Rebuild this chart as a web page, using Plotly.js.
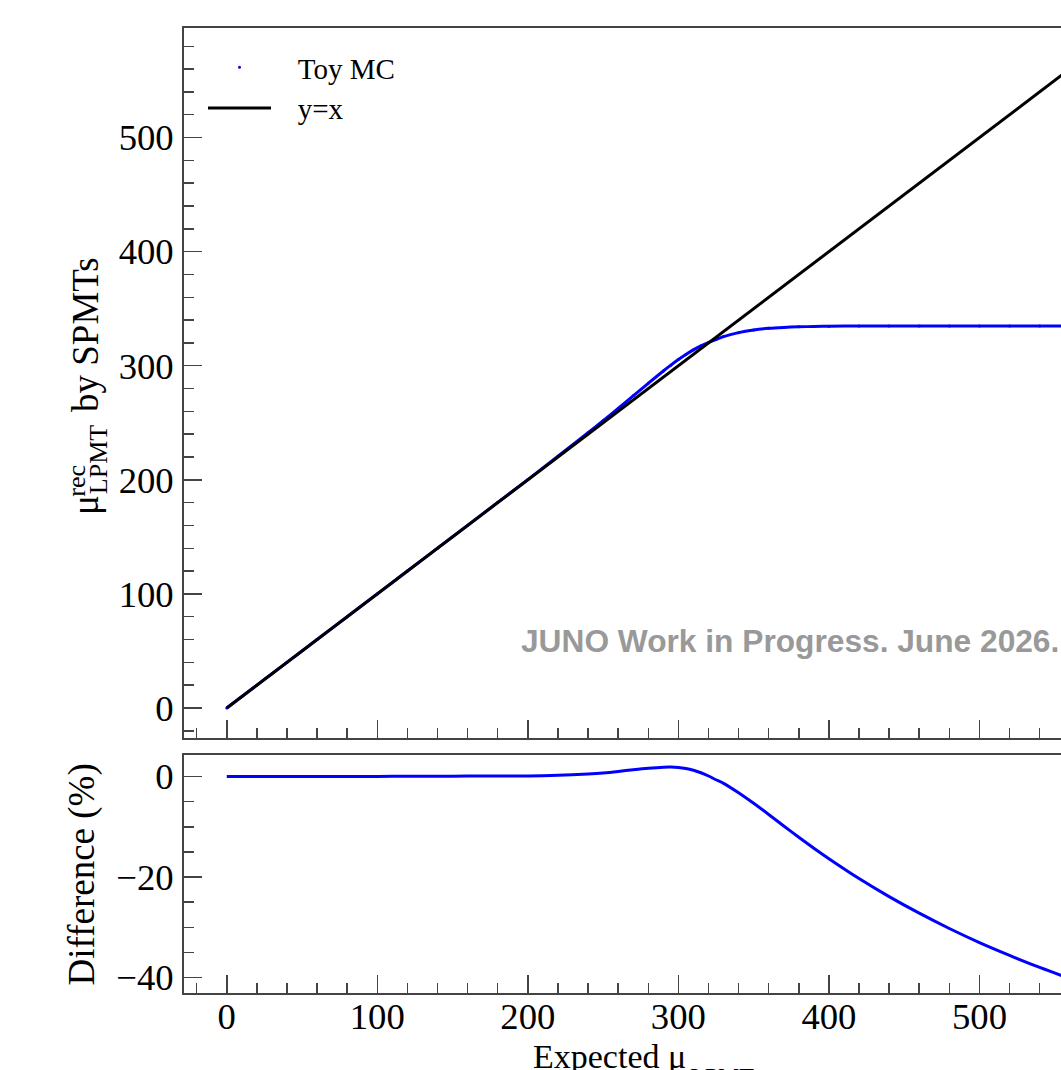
<!DOCTYPE html>
<html><head><meta charset="utf-8">
<script src="https://cdn.plot.ly/plotly-3.0.1.min.js"></script>
<style>html,body{margin:0;padding:0;overflow:hidden;background:#fff}#chart{width:1160px;height:1100px}</style>
</head><body><div id="chart"></div>
<script>
// ---- data ----
const expectedMu = [0, 20, 40, 60, 80, 100, 120, 140, 160, 180, 200, 220, 240, 250, 260, 270, 280, 290, 295, 300, 305, 310, 315, 320, 325, 330, 340, 350, 360, 370, 380, 390, 400, 420, 440, 460, 480, 500, 520, 540, 560, 575];
const reconMu = [0, 20, 40, 60, 80, 100, 120.05, 140.1, 160.1, 180.2, 200.2, 220.6, 241.2, 251.8, 262.6, 273.6, 284.6, 295.4, 300.5, 305.4, 309.9, 313.9, 317.4, 320.3, 322.9, 325.5, 329.0, 331.3, 332.8, 333.6, 334.1, 334.4, 334.6, 334.8, 334.8, 334.9, 334.8, 334.8, 334.8, 334.8, 334.9, 334.7];
const diffPct = [0, 0, 0, 0, 0, 0.02, 0.04, 0.06, 0.08, 0.1, 0.12, 0.25, 0.5, 0.7, 1.0, 1.35, 1.65, 1.85, 1.88, 1.8, 1.6, 1.25, 0.75, 0.1, -0.65, -1.36, -3.24, -5.34, -7.56, -9.84, -12.08, -14.26, -16.35, -20.3, -23.9, -27.2, -30.25, -33.05, -35.6, -38.0, -40.2, -41.8];
const identityX = [0, 600];
const identityY = [0, 600];
const xTicks = [0, 100, 200, 300, 400, 500];
const yTicksTop = [0, 100, 200, 300, 400, 500];
const yTicksBottom = [-40, -20, 0];

const SERIF = 'Liberation Serif, Times New Roman, serif';
const FRAME = '#444';
const W = 1160, H = 1100, L = 184, R = W - 1130, T = 28, B = H - 993;
const PW = W - L - R, PH = H - T - B;
const px = p => (p - L) / PW;
const py = p => (H - B - p) / PH;

const traces = [
  {x: expectedMu, y: reconMu, xaxis: 'x', yaxis: 'y', mode: 'lines', line: {color: '#0000ff', width: 3, shape: 'spline', smoothing: 0.8}, showlegend: false, hoverinfo: 'skip'},
  {x: expectedMu, y: reconMu, xaxis: 'x', yaxis: 'y', mode: 'markers', marker: {color: '#0000ff', size: 3}, name: '\u00A0\u00A0\u00A0Toy MC'},
  {x: identityX, y: identityY, xaxis: 'x', yaxis: 'y', mode: 'lines', line: {color: '#000000', width: 3}, name: '\u00A0\u00A0\u00A0y=x'},
  {x: expectedMu, y: diffPct, xaxis: 'x2', yaxis: 'y2', mode: 'lines', line: {color: '#0000ff', width: 3, shape: 'spline', smoothing: 0.8}, showlegend: false}
];

function xAxis(labels, anchor) {
  return {
    anchor: anchor, domain: [0, 1], range: [-28.4, 600],
    tickmode: 'array', tickvals: xTicks, showticklabels: labels,
    ticks: 'inside', ticklen: 18, tickwidth: 1.5, tickcolor: FRAME,
    minor: {dtick: 20, tick0: 0, ticks: 'inside', ticklen: 10, tickwidth: 1.5, tickcolor: FRAME},
    showline: true, linecolor: FRAME, linewidth: 2, mirror: true,
    showgrid: false, zeroline: false,
    tickfont: {family: SERIF, size: 36.7, color: '#000'}, ticklabelstandoff: -10
  };
}
function yAxis(domain, range, ticks, minorStep, anchor) {
  return {
    anchor: anchor, domain: domain, range: range,
    tickmode: 'array', tickvals: ticks,
    ticks: 'inside', ticklen: 18, tickwidth: 1.5, tickcolor: FRAME,
    minor: {dtick: minorStep, tick0: 0, ticks: 'inside', ticklen: 10, tickwidth: 1.5, tickcolor: FRAME},
    showline: true, linecolor: FRAME, linewidth: 2, mirror: true,
    showgrid: false, zeroline: false,
    tickfont: {family: SERIF, size: 36.7, color: '#000'}, ticklabelstandoff: 1
  };
}

function ann(text, xp, yp, size, opts) {
  return Object.assign({text: text, xref: 'paper', yref: 'paper', x: px(xp), y: py(yp),
    xanchor: 'center', yanchor: 'middle', showarrow: false,
    font: {family: SERIF, size: size, color: '#000'}}, opts || {});
}

const layout = {
  width: W, height: H,
  margin: {l: L, r: R, t: T, b: B, pad: 0},
  paper_bgcolor: '#fff', plot_bgcolor: '#fff',
  xaxis: xAxis(false, 'y'),
  xaxis2: xAxis(true, 'y2'),
  yaxis: yAxis([py(738), 1], [-26.3, 596], yTicksTop, 20, 'x'),
  yaxis2: yAxis([0, py(755)], [-43.08, 4.28], yTicksBottom, 5, 'x2'),
  showlegend: true,
  legend: {x: px(203), y: py(42), xanchor: 'left', yanchor: 'top', bgcolor: 'rgba(0,0,0,0)',
    font: {family: SERIF, size: 29, color: '#000'}, itemwidth: 63, traceorder: 'normal'},
  annotations: [
    ann('μ', 85.5, 505.5, 37, {textangle: -90}),
    ann('LPMT', 98.2, 460, 26, {textangle: -90}),
    ann('rec', 76.2, 480.5, 26, {textangle: -90}),
    ann('by SPMTs', 85.5, 334.5, 37, {textangle: -90}),
    ann('Difference (%)', 81.5, 875, 37, {textangle: -90}),
    ann('Expected μ', 531, 1068 - 0.3375 * 34, 34, {xanchor: 'left'}),
    ann('LPMT', 688, 1076, 24, {xanchor: 'left'}),
    ann('<b>JUNO Work in Progress. June 2026.</b>', 519, 652 - 0.3465 * 31.7, 31.7,
      {xanchor: 'left', font: {family: 'Liberation Sans, Arial, sans-serif', size: 31.7, color: '#999999'}})
  ]
};

Plotly.newPlot('chart', traces, layout, {displayModeBar: false, staticPlot: true});
</script>
</body></html>
